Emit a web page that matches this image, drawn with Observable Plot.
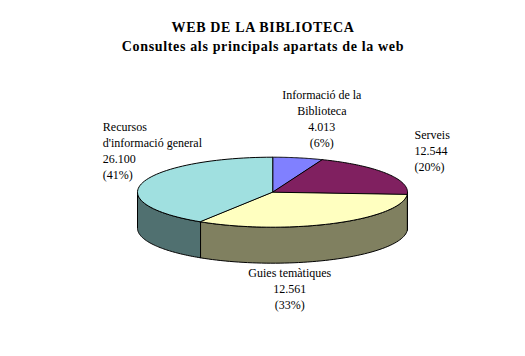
<!DOCTYPE html>
<html><head><meta charset="utf-8">
<script src="https://cdn.jsdelivr.net/npm/d3@7"></script>
<script src="https://cdn.jsdelivr.net/npm/@observablehq/plot@0.6"></script>
<style>
html,body{margin:0;padding:0;background:#fff;overflow:hidden}
#head{width:526px;height:60px;box-sizing:border-box;padding-top:18px;text-align:center;font:bold 14px/19px "Liberation Serif",serif;color:#000;letter-spacing:.65px}
#chart svg{display:block}
</style></head><body>
<div id="head"><div>WEB DE LA BIBLIOTECA</div><div>Consultes als principals apartats de la web</div></div>
<div id="chart"></div>
<script>
const names = ["Informació de la\nBiblioteca", "Serveis", "Guies temàtiques", "Recursos\nd'informació general"];
const values = ["4.013", "12.544", "12.561", "26.100"];
const percents = [6, 20, 33, 41];
const topColors = ["#8080ff", "#802060", "#ffffc0", "#a0e0e0"];
const wallColors = ["#404080", "#401030", "#808060", "#507070"];

const depth = 36 / 35;
const rad = p => p / 100 * 2 * Math.PI;
const px = a => Math.sin(a), py = a => Math.cos(a);
let cum = 0;
const slices = percents.map((p, i) => { const s = {i, a0: rad(cum), a1: rad(cum + p), mid: rad(cum + p / 2)}; cum += p; return s; });
const arc = (a0, a1) => d3.range(0, 61).map(k => a0 + (a1 - a0) * k / 60);

const faces = slices.flatMap(s => [{x: 0, y: 0, id: s.i, color: topColors[s.i]},
  ...arc(s.a0, s.a1).map(a => ({x: px(a), y: py(a), id: s.i, color: topColors[s.i]}))]);
const walls = slices.filter(s => s.a1 > Math.PI / 2 && s.a0 < 1.5 * Math.PI).flatMap(s => {
  const as = arc(Math.max(s.a0, Math.PI / 2), Math.min(s.a1, 1.5 * Math.PI));
  return [...as.map(a => ({x: px(a), y: py(a), id: s.i, color: wallColors[s.i]})),
          ...as.slice().reverse().map(a => ({x: px(a), y: py(a) - depth, id: s.i, color: wallColors[s.i]}))];
});

const label = (i, textAnchor, dx, dy) => Plot.text([slices[i]], {
  x: s => px(s.mid), y: s => py(s.mid),
  text: () => `${names[i]}\n${values[i]}\n(${percents[i]}%)`,
  textAnchor, lineAnchor: "top", lineHeight: 1.333, dx, dy,
  fontSize: 12, fontFamily: "Liberation Serif", fill: "#000"
});

const plot = Plot.plot({
  width: 525, height: 296,
  marginTop: 96.7, marginBottom: 93.3, marginLeft: 137, marginRight: 118,
  x: {domain: [-1, 1], axis: null},
  y: {domain: [-1 - depth, 1], axis: null},
  color: {type: "identity"},
  style: {background: "#fff", overflow: "visible"},
  marks: [
    Plot.line(walls, {x: "x", y: "y", z: "id", fill: "color", stroke: "#000", strokeWidth: 1, curve: "linear-closed"}),
    Plot.line(faces, {x: "x", y: "y", z: "id", fill: "color", stroke: "#000", strokeWidth: 1, curve: "linear-closed"}),
    label(0, "middle", 24, -70),
    label(1, "start", 28, -46),
    label(2, "middle", -44, 42),
    label(3, "start", -40, -63)
  ]
});
document.getElementById("chart").appendChild(plot);
</script>
</body></html>
